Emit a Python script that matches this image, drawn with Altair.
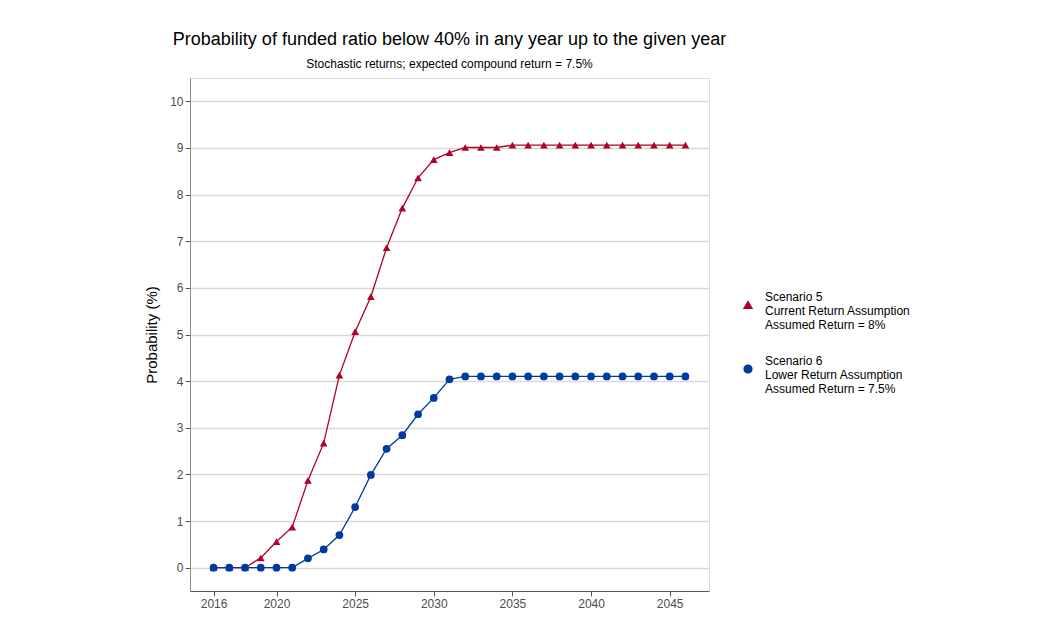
import altair as alt
import pandas as pd

years = [2016, 2017, 2018, 2019, 2020, 2021, 2022, 2023, 2024, 2025, 2026,
         2027, 2028, 2029, 2030, 2031, 2032, 2033, 2034, 2035, 2036, 2037,
         2038, 2039, 2040, 2041, 2042, 2043, 2044, 2045, 2046]
scenario5 = [0, 0, 0, 0.21, 0.56, 0.87, 1.87, 2.67, 4.13, 5.06, 5.81,
             6.86, 7.71, 8.36, 8.75, 8.9, 9.01, 9.01, 9.01, 9.06, 9.06, 9.06,
             9.06, 9.06, 9.06, 9.06, 9.06, 9.06, 9.06, 9.06, 9.06]
scenario6 = [0, 0, 0, 0, 0, 0, 0.2, 0.39, 0.7, 1.3, 1.99,
             2.55, 2.84, 3.29, 3.64, 4.04, 4.1, 4.1, 4.1, 4.1, 4.1, 4.1,
             4.1, 4.1, 4.1, 4.1, 4.1, 4.1, 4.1, 4.1, 4.1]
series_names = ["Scenario 5", "Scenario 6"]
series_colors = ["#b1002b", "#003a9e"]
x_ticks = [2016, 2020, 2025, 2030, 2035, 2040, 2045]
y_ticks = [0, 1, 2, 3, 4, 5, 6, 7, 8, 9, 10]

df = pd.concat([
    pd.DataFrame({"Year": years, "Prob": scenario5, "Scenario": series_names[0]}),
    pd.DataFrame({"Year": years, "Prob": scenario6, "Scenario": series_names[1]}),
])

FONT = "Liberation Sans"

x = alt.X("Year:Q", scale=alt.Scale(domain=[2014.5, 2047.5], nice=False, zero=False),
          axis=alt.Axis(values=x_ticks, format="d", title=None, grid=False,
                        domainColor="#555555", tickColor="#555555",
                        labelFontSize=12, labelFont=FONT, labelColor="#4d4d4d"))
y = alt.Y("Prob:Q", scale=alt.Scale(domain=[-0.5, 10.5], nice=False, zero=False),
          axis=alt.Axis(values=y_ticks, title="Probability (%)", grid=True,
                        gridColor="#d9d9d9", gridWidth=1.5,
                        domainColor="#888888", tickColor="#555555",
                        labelFontSize=12, labelFont=FONT, labelColor="#4d4d4d",
                        titleFontSize=15, titleFontWeight="normal", titleColor="#000000",
                        titlePadding=10))

label_expr = ("datum.value == 'Scenario 5' ? "
              "['Scenario 5', 'Current Return Assumption', 'Assumed Return = 8%'] : "
              "['Scenario 6', 'Lower Return Assumption', 'Assumed Return = 7.5%']")

leg = alt.Legend(title=None, orient="none", legendX=552, legendY=221,
                 labelExpr=label_expr, labelFont=FONT, labelFontSize=12,
                 labelColor="#000000", labelOffset=11, symbolSize=60,
                 labelBaseline="line-bottom",
                 rowPadding=24, labelLimit=300)

color = alt.Color("Scenario:N", scale=alt.Scale(domain=series_names, range=series_colors),
                  legend=leg)
shape = alt.Shape("Scenario:N", scale=alt.Scale(domain=series_names, range=["triangle-up", "circle"]),
                  legend=leg)

base = alt.Chart(df)

line = base.mark_line(strokeWidth=1.3).encode(x=x, y=y, color=color)
pts = base.mark_point(filled=True, size=60, opacity=1).encode(x=x, y=y, color=color, shape=shape)

chart = alt.layer(line, pts).properties(
    width=519, height=513,
    title=alt.TitleParams(
        text="Probability of funded ratio below 40% in any year up to the given year",
        subtitle="Stochastic returns; expected compound return = 7.5%",
        anchor="middle", font=FONT, fontSize=18, fontWeight="normal", color="#000000",
        subtitleFont=FONT, subtitleFontSize=12, subtitleColor="#000000",
        subtitlePadding=10, offset=8),
    autosize=alt.AutoSizeParams(type="none"),
    padding={"left": 182, "top": 70, "right": 330, "bottom": 33},
).configure_view(stroke="#888888", strokeWidth=1).configure_axis(
    tickSize=4, labelPadding=3
).configure(background="#ffffff")

chart.save("out.html", embed_options={"renderer": "svg", "actions": False})
